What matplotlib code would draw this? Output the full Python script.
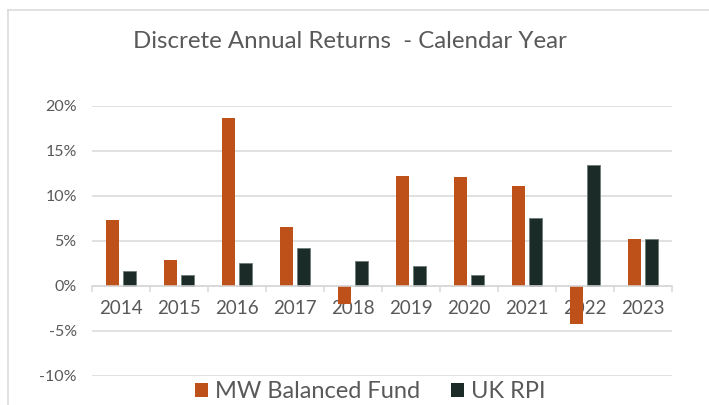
import matplotlib

matplotlib.use("Agg")
import matplotlib.pyplot as plt
from matplotlib.lines import Line2D
from matplotlib.patches import Patch
from matplotlib.ticker import FixedLocator, FuncFormatter
import numpy as np

years = ["2014", "2015", "2016", "2017", "2018", "2019", "2020", "2021", "2022", "2023"]
fund_returns = [7.3, 2.9, 18.6, 6.5, -2.0, 12.2, 12.1, 11.1, -4.2, 5.2]
rpi_returns = [1.6, 1.2, 2.5, 4.2, 2.7, 2.2, 1.2, 7.5, 13.4, 5.2]
series_names = ["MW Balanced Fund", "UK RPI"]

ORANGE = "#BE501A"
DARK = "#1B2B27"
GRID = "#D9D9D9"
TEXT = "#595959"

plt.rcParams["font.family"] = ["Lato", "DejaVu Sans"]

fig = plt.figure(figsize=(7.09, 4.05), dpi=100)
ax = fig.add_axes([92 / 709, 1 - 375.7 / 405, 580 / 709, 270 / 405])

x = np.arange(len(years))
width = 0.22
ax.bar(x - 0.143, fund_returns, width, color=ORANGE, zorder=3)
ax.bar(x + 0.143, rpi_returns, width, color=DARK, edgecolor="#6E7C77",
       linewidth=0.6, zorder=3)

ax.set_xlim(-0.5, len(years) - 0.5)
ax.set_ylim(-10, 20)
ax.set_yticks(np.arange(-10, 21, 5))
ax.yaxis.set_major_formatter(FuncFormatter(lambda v, _: f"{v:.0f}%"))
ax.grid(axis="y", color=GRID, linewidth=1.1, zorder=0)

for side in ("top", "right", "left"):
    ax.spines[side].set_visible(False)
ax.spines["bottom"].set_position(("data", 0))
ax.spines["bottom"].set_color(GRID)
ax.spines["bottom"].set_linewidth(1.1)
ax.spines["bottom"].set_zorder(4)

ax.set_xticks(x)
ax.set_xticklabels(years)
ax.xaxis.set_minor_locator(FixedLocator(np.arange(-0.5, len(years), 1.0)))
ax.tick_params(axis="x", which="major", length=0, pad=10.5, labelsize=13.5,
               labelcolor=TEXT)
ax.tick_params(axis="x", which="minor", length=4, width=1.1, color=GRID)
ax.tick_params(axis="y", length=0, pad=11, labelsize=11.5, labelcolor=TEXT)

fig.text(350 / 709, 1 - 42 / 405, "Discrete Annual Returns  - Calendar Year",
         ha="center", va="center", fontsize=17.3, color=TEXT)

handles = [Patch(facecolor=ORANGE), Patch(facecolor=DARK)]
fig.legend(handles, series_names, loc="center", bbox_to_anchor=(370 / 709, 1 - 392 / 405),
           ncol=2, frameon=False, fontsize=17, labelcolor=TEXT,
           handlelength=0.55, handleheight=0.55, handletextpad=0.3,
           columnspacing=1.3, borderaxespad=0, borderpad=0)

# chart frame (only top and left edges are visible in the source image)
fig.add_artist(Line2D([8 / 709, 8 / 709], [0, 1 - 10 / 405], color=GRID, linewidth=1.1))
fig.add_artist(Line2D([8 / 709, 1], [1 - 10 / 405, 1 - 10 / 405], color=GRID, linewidth=1.1))

fig.savefig("out.png", dpi=100)
